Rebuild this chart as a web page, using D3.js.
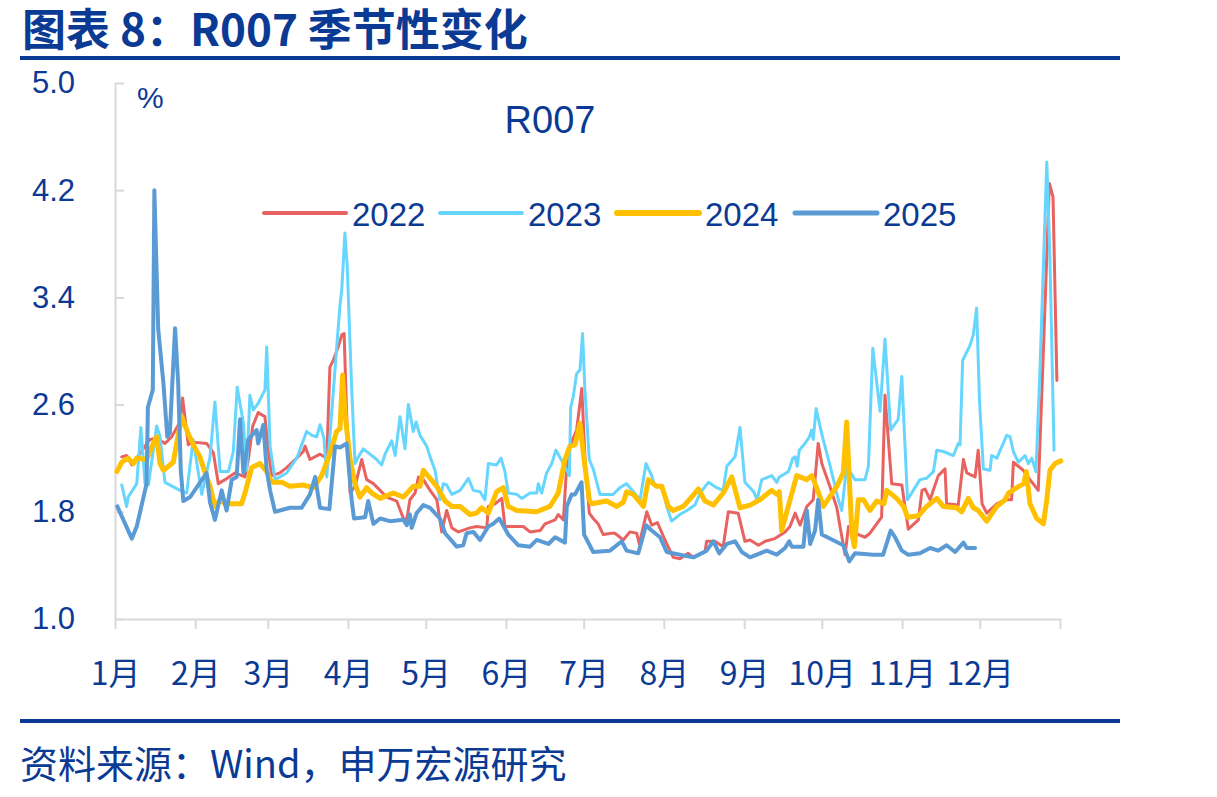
<!DOCTYPE html>
<html><head><meta charset="utf-8">
<script src="https://cdn.jsdelivr.net/npm/d3@7"></script>
<style>html,body{margin:0;padding:0;background:#fff;}</style>
</head><body>
<svg id="c" width="1217" height="797"></svg>
<script>
const monthStarts = [0,31,59,90,120,151,181,212,243,273,304,334,365];
const monthLabels = ["1月","2月","3月","4月","5月","6月","7月","8月","9月","10月","11月","12月",""];
const yTicks = [1.0,1.8,2.6,3.4,4.2,5.0];
const seriesNames = ["2022","2023","2024","2025"];
// [day of year, R007 %]
const r2022 = [[2.6,2.21],[4.5,2.22],[6.5,2.15],[13.5,2.34],[16.1,2.35],[19.3,2.31],[21.9,2.36],[25.1,2.47],[26.1,2.65],[28.3,2.30],[30.2,2.32],[35.4,2.31],[38.0,2.24],[39.9,2.01],[42.5,2.04],[46.3,2.09],[50.2,2.06],[51.5,2.19],[53.2,2.44],[55.3,2.54],[57.9,2.51],[59.2,2.26],[60.5,2.07],[63.7,2.09],[66.3,2.13],[70.2,2.20],[72.7,2.25],[73.4,2.29],[75.3,2.19],[79.2,2.23],[81.8,2.20],[83.0,2.88],[84.3,2.93],[86.2,3.03],[87.6,3.12],[88.5,3.13],[89.5,2.51],[90.8,1.94],[92.7,1.99],[94.0,2.09],[95.3,2.19],[97.2,2.04],[99.8,2.01],[102.4,1.96],[104.9,1.91],[108.8,1.88],[111.4,1.75],[112.7,1.74],[113.9,1.89],[115.9,1.94],[117.2,2.06],[119.1,2.04],[121.7,1.96],[124.3,1.89],[126.2,1.65],[128.1,1.81],[130.1,1.68],[132.6,1.65],[137.1,1.68],[139.7,1.69],[143.6,1.68],[144.2,1.84],[146.8,1.86],[149.4,1.90],[150.6,1.69],[157.7,1.69],[160.3,1.65],[164.2,1.66],[166.1,1.71],[170.0,1.74],[171.2,1.78],[173.2,1.74],[174.2,2.06],[175.7,2.29],[178.3,2.41],[180.3,2.72],[181.5,2.21],[183.2,1.79],[184.7,1.75],[186.6,1.71],[188.6,1.63],[191.8,1.64],[193.1,1.64],[196.3,1.59],[198.9,1.65],[201.5,1.64],[202.5,1.56],[205.4,1.80],[207.3,1.70],[209.5,1.72],[212.4,1.59],[215.6,1.46],[218.2,1.45],[221.4,1.49],[223.4,1.46],[227.9,1.50],[228.5,1.58],[231.7,1.58],[234.9,1.54],[236.9,1.80],[240.7,1.79],[243.3,1.58],[245.3,1.59],[248.5,1.55],[251.1,1.58],[254.9,1.60],[258.8,1.65],[260.7,1.69],[262.7,1.79],[264.6,1.70],[267.2,1.84],[269.7,1.89],[271.6,2.31],[273.0,2.16],[276.1,1.99],[278.8,1.83],[280.3,1.66],[282.0,1.48],[283.3,1.69],[285.2,1.66],[287.1,1.63],[289.7,1.61],[291.6,1.64],[296.1,1.76],[297.4,2.67],[300.0,2.01],[303.9,2.00],[306.4,1.67],[310.3,1.74],[311.7,1.96],[312.9,1.97],[314.8,1.89],[318.0,2.07],[320.6,2.12],[321.2,1.86],[325.7,1.85],[327.7,2.19],[329.0,2.09],[332.2,2.06],[333.4,2.26],[334.9,1.86],[336.7,1.79],[340.6,1.86],[343.8,1.89],[346.3,1.89],[347.0,2.17],[348.9,2.14],[350.8,2.11],[353.4,2.04],[356.6,1.96],[358.6,3.01],[360.9,4.25],[362.3,4.15],[363.8,2.78]];
const r2023 = [[2.6,2.00],[4.5,1.84],[5.1,1.91],[8.4,2.01],[10.0,2.43],[11.6,2.01],[12.9,2.00],[16.1,2.44],[17.4,2.36],[19.3,2.02],[25.1,1.96],[27.7,1.94],[30.2,2.34],[32.2,2.09],[33.5,1.93],[36.7,2.21],[38.6,2.62],[40.6,2.10],[43.8,2.10],[45.7,2.25],[47.2,2.73],[49.6,2.46],[50.9,2.11],[52.1,2.67],[53.4,2.56],[55.3,2.61],[57.9,2.71],[58.6,3.03],[59.9,2.29],[61.8,2.04],[66.3,2.09],[70.2,2.20],[74.0,2.40],[76.0,2.37],[77.9,2.36],[79.2,2.45],[80.7,2.35],[81.8,2.06],[83.3,2.44],[85.6,3.02],[86.9,3.34],[87.6,3.46],[88.8,3.88],[89.7,3.63],[91.4,2.73],[92.7,2.16],[94.0,2.21],[95.9,2.27],[98.5,2.23],[101.1,2.19],[103.0,2.15],[104.3,2.23],[106.9,2.33],[108.2,2.22],[110.1,2.51],[112.0,2.27],[113.3,2.60],[115.2,2.40],[116.3,2.47],[117.8,2.37],[120.4,2.29],[121.7,2.21],[123.6,2.11],[125.5,1.89],[126.8,2.01],[128.1,2.00],[130.1,1.93],[133.3,1.96],[136.5,2.05],[138.4,1.96],[141.0,1.95],[142.9,1.89],[144.2,2.16],[147.4,2.15],[149.1,2.20],[150.6,2.10],[151.9,1.94],[155.2,1.93],[157.1,1.90],[160.3,1.94],[162.9,1.94],[163.5,2.01],[164.8,1.94],[166.7,2.09],[168.7,2.16],[170.3,2.26],[173.2,2.16],[175.5,2.07],[176.0,2.58],[177.0,2.66],[178.3,2.83],[179.6,2.86],[180.6,3.13],[181.5,2.71],[183.2,2.19],[184.7,2.12],[187.3,1.93],[192.4,1.93],[195.0,1.98],[197.6,2.01],[200.2,1.95],[202.8,1.89],[205.1,2.16],[207.3,2.07],[208.6,1.99],[211.2,1.99],[213.1,1.84],[215.0,1.73],[218.2,1.78],[220.9,1.81],[224.0,1.85],[226.0,1.94],[229.2,2.02],[232.4,1.98],[234.9,1.96],[236.3,2.14],[239.5,2.21],[241.4,2.43],[243.3,2.02],[246.7,1.95],[248.0,1.89],[249.8,2.04],[253.7,2.07],[255.6,2.02],[256.6,2.06],[260.1,2.10],[261.8,2.20],[262.7,2.21],[263.5,2.14],[264.3,2.26],[266.5,2.31],[268.2,2.36],[269.1,2.41],[269.7,2.34],[270.8,2.57],[273.0,2.38],[276.1,2.15],[279.4,1.89],[280.7,1.81],[282.6,2.14],[285.8,2.04],[289.7,2.04],[291.0,2.14],[292.7,3.02],[295.5,2.55],[297.4,3.09],[299.6,2.41],[302.5,2.49],[303.9,2.81],[306.1,1.89],[310.9,2.04],[313.5,2.05],[316.1,2.10],[317.4,2.26],[319.9,2.25],[323.8,2.22],[325.7,2.31],[326.4,2.30],[327.4,2.93],[330.2,3.04],[331.5,3.12],[332.8,3.32],[333.9,2.63],[335.4,2.12],[338.0,2.11],[338.6,2.22],[340.6,2.20],[344.4,2.37],[345.7,2.36],[347.0,2.25],[348.9,2.17],[351.5,2.22],[352.8,2.16],[354.1,2.20],[355.7,2.10],[357.3,2.88],[359.9,4.41],[361.1,3.70],[362.7,2.26]];
const r2024 = [[0.7,2.10],[2.6,2.17],[5.1,2.20],[7.1,2.16],[8.4,2.20],[12.2,2.19],[14.8,2.31],[16.1,2.36],[17.4,2.16],[18.7,2.11],[22.5,2.17],[23.8,2.31],[25.8,2.51],[28.3,2.38],[31.6,2.25],[32.8,2.21],[34.8,2.09],[36.7,1.99],[38.6,1.84],[40.6,1.89],[42.5,1.86],[48.9,1.86],[50.2,1.94],[52.8,2.13],[56.0,2.16],[58.6,2.10],[60.5,2.02],[64.4,2.02],[67.6,1.99],[72.7,2.00],[76.6,1.98],[79.8,2.07],[83.0,2.23],[85.6,2.40],[86.9,2.42],[87.9,2.82],[88.8,2.54],[90.8,2.19],[92.7,2.01],[94.6,1.91],[97.2,1.98],[99.2,1.94],[102.4,1.90],[107.5,1.94],[111.4,1.91],[115.2,1.99],[117.8,1.99],[119.1,2.11],[121.7,2.05],[124.3,1.99],[127.5,1.88],[130.1,1.84],[133.3,1.84],[137.1,1.78],[139.7,1.79],[141.6,1.83],[144.2,1.79],[147.4,1.95],[150.0,1.98],[151.9,1.84],[155.2,1.81],[162.9,1.80],[168.0,1.84],[171.2,1.94],[173.8,2.19],[175.7,2.29],[177.7,2.30],[179.6,2.46],[181.5,2.14],[183.2,1.89],[184.1,1.86],[189.9,1.88],[193.8,1.84],[196.3,1.87],[197.6,1.95],[200.2,1.93],[204.1,1.84],[206.0,2.04],[209.2,1.99],[211.2,1.99],[213.7,1.84],[215.6,1.81],[219.5,1.84],[222.7,1.91],[225.3,1.97],[227.9,1.88],[231.1,1.85],[234.9,1.94],[238.2,2.06],[241.4,1.83],[245.3,1.85],[249.1,1.89],[253.6,1.96],[255.6,1.93],[256.6,1.95],[257.5,1.66],[263.3,2.07],[267.2,2.04],[269.1,2.07],[271.0,1.98],[273.6,1.84],[278.8,1.99],[281.3,2.09],[282.6,2.47],[284.6,1.64],[285.6,1.54],[287.1,1.89],[289.1,1.89],[291.6,1.81],[294.2,1.88],[297.0,1.86],[298.1,1.96],[301.9,1.90],[304.6,1.84],[306.1,1.76],[310.3,1.77],[313.5,1.84],[317.4,1.90],[319.9,1.84],[325.1,1.83],[327.0,1.80],[329.6,1.90],[331.5,1.83],[333.4,1.81],[336.7,1.73],[340.6,1.84],[343.8,1.89],[345.1,1.94],[348.3,1.98],[351.0,2.01],[352.0,2.10],[353.4,1.86],[356.0,1.75],[358.6,1.71],[359.9,1.89],[361.1,2.11],[363.1,2.16],[365.3,2.18]];
const r2025 = [[0.9,1.84],[6.5,1.60],[8.4,1.69],[12.2,2.01],[12.7,2.58],[14.6,2.71],[15.2,4.20],[16.7,3.16],[18.7,2.76],[20.2,2.36],[21.2,2.39],[23.2,3.17],[24.4,2.76],[25.4,2.11],[26.4,1.88],[29.0,1.91],[35.4,2.09],[36.7,1.87],[38.6,1.74],[41.2,1.96],[43.1,1.81],[45.1,2.04],[47.0,2.06],[48.3,2.49],[49.6,2.09],[51.5,2.34],[54.7,2.41],[55.3,2.31],[57.3,2.45],[58.6,2.11],[59.9,1.96],[61.8,1.80],[67.6,1.83],[72.1,1.83],[75.3,1.93],[77.3,2.06],[79.2,1.83],[82.8,1.82],[85.0,2.29],[86.9,2.28],[89.5,2.31],[91.4,1.89],[92.3,1.75],[96.6,1.76],[97.8,1.88],[99.8,1.71],[102.4,1.75],[106.2,1.73],[111.4,1.74],[112.7,1.70],[113.9,1.78],[114.6,1.68],[116.5,1.79],[119.1,1.85],[121.7,1.83],[125.5,1.75],[127.5,1.64],[132.0,1.54],[134.5,1.55],[135.8,1.64],[138.4,1.65],[141.0,1.59],[144.2,1.69],[146.1,1.71],[148.4,1.75],[151.9,1.63],[155.8,1.55],[160.3,1.54],[162.9,1.59],[167.4,1.56],[170.0,1.61],[173.8,1.57],[174.5,1.84],[176.4,1.93],[177.7,1.93],[180.2,2.02],[181.2,1.63],[184.7,1.50],[191.2,1.51],[195.7,1.58],[197.6,1.51],[202.1,1.49],[205.1,1.70],[207.3,1.66],[210.5,1.61],[213.1,1.50],[218.2,1.48],[223.4,1.46],[228.5,1.51],[231.1,1.58],[233.4,1.49],[236.3,1.56],[239.5,1.58],[242.1,1.50],[245.3,1.46],[251.7,1.51],[255.6,1.48],[258.8,1.53],[260.4,1.58],[261.4,1.54],[265.9,1.54],[267.2,1.81],[268.5,1.56],[270.4,1.66],[271.6,1.89],[273.0,1.63],[281.3,1.55],[283.6,1.43],[285.8,1.49],[292.9,1.48],[296.7,1.48],[299.6,1.66],[301.3,1.61],[303.9,1.51],[306.4,1.48],[310.9,1.49],[314.8,1.53],[318.0,1.51],[321.2,1.55],[324.5,1.50],[327.7,1.57],[329.0,1.53],[332.2,1.53]];

const seriesData = [r2022, r2023, r2024, r2025];
const colors = ["#E8625F","#66D6FF","#FFC000","#5B9BD5"];
const widths = [3, 3, 5, 4];
const textColor = "#0B3A94";

const svg = d3.select("#c");
const x = d3.scaleLinear().domain([0,365]).range([115,1060]);
const y = d3.scaleLinear().domain([1,5]).range([619,83]);

// title
svg.append("text").attr("x",22).attr("y",46)
  .attr("font-family","'Noto Sans CJK SC', sans-serif").attr("font-weight","bold")
  .attr("font-size",44).attr("fill",textColor).text("图表 8：R007 季节性变化");
svg.append("rect").attr("x",20).attr("y",56).attr("width",1100).attr("height",4).attr("fill","#0B3A94");
svg.append("rect").attr("x",20).attr("y",719).attr("width",1100).attr("height",4).attr("fill","#0B3A94");
svg.append("text").attr("x",20).attr("y",778)
  .attr("font-family","'Noto Sans CJK SC', sans-serif")
  .attr("font-size",38).attr("fill",textColor).text("资料来源：Wind，申万宏源研究");

// axes
const yAxis = d3.axisLeft(y).tickValues(yTicks).tickFormat(d3.format(".1f"))
  .tickSizeInner(-9).tickSizeOuter(0).tickPadding(40);
const gy = svg.append("g").attr("transform","translate(115,0)").call(yAxis);
gy.selectAll("path,line").attr("stroke","#D9D9D9").attr("stroke-width",2);
gy.selectAll("text").attr("font-family","'Liberation Sans', Arial, sans-serif")
  .attr("font-size",31).attr("fill",textColor);

const xAxis = d3.axisBottom(x).tickValues(monthStarts).tickFormat((d,i)=>monthLabels[i])
  .tickSizeInner(10).tickSizeOuter(0).tickPadding(33);
const gx = svg.append("g").attr("transform","translate(0,619)").call(xAxis);
gx.selectAll("path,line").attr("stroke","#D9D9D9").attr("stroke-width",2);
gx.selectAll("text").attr("font-family","'Noto Sans CJK SC', sans-serif")
  .attr("font-size",32).attr("fill",textColor);

// labels
svg.append("text").attr("x",137).attr("y",108)
  .attr("font-family","'Liberation Sans', Arial, sans-serif").attr("font-size",30)
  .attr("fill",textColor).text("%");
svg.append("text").attr("x",550).attr("y",133).attr("text-anchor","middle")
  .attr("font-family","'Liberation Sans', Arial, sans-serif").attr("font-size",38)
  .attr("fill",textColor).text("R007");

// lines
const line = d3.line().x(d=>x(d[0])).y(d=>y(d[1]));
seriesData.forEach((s,i)=>{
  svg.append("path").datum(s).attr("d",line).attr("fill","none")
    .attr("stroke",colors[i]).attr("stroke-width",widths[i])
    .attr("stroke-linejoin","round").attr("stroke-linecap","round");
});

// legend
const legX = [264, 440, 617, 795];
seriesNames.forEach((n,i)=>{
  svg.append("line").attr("x1",legX[i]).attr("x2",legX[i]+82).attr("y1",213).attr("y2",213)
    .attr("stroke",colors[i]).attr("stroke-width",widths[i]+1).attr("stroke-linecap","round");
  svg.append("text").attr("x",legX[i]+88).attr("y",226)
    .attr("font-family","'Liberation Sans', Arial, sans-serif").attr("font-size",33)
    .attr("fill",textColor).text(n);
});
</script>
</body></html>
